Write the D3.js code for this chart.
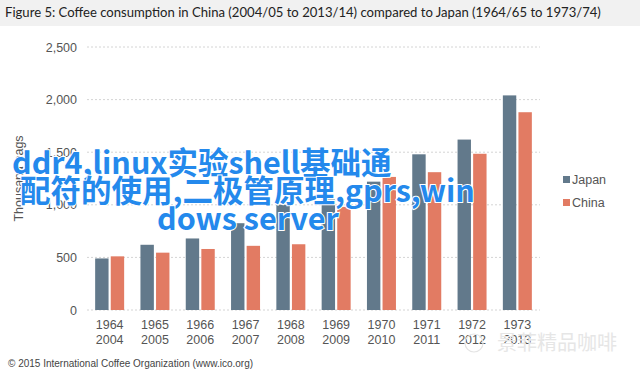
<!DOCTYPE html>
<html>
<head>
<meta charset="utf-8">
<script src="https://cdn.jsdelivr.net/npm/d3@7"></script>
<style>
  body { margin: 0; background: #fff; }
  svg { display: block; }
</style>
</head>
<body>
<div class="chart-container"></div>
<script>
// data
const yearsJapan = ["1964", "1965", "1966", "1967", "1968", "1969", "1970", "1971", "1972", "1973"];
const yearsChina = ["2004", "2005", "2006", "2007", "2008", "2009", "2010", "2011", "2012", "2013"];
const japan = [490, 620, 680, 825, 1000, 1050, 1220, 1480, 1620, 2040];
const china = [510, 545, 580, 610, 625, 980, 1265, 1310, 1485, 1880];
const seriesNames = ["Japan", "China"];
const yTicks = [0, 500, 1000, 1500, 2000, 2500];

const COLORS = { Japan: "#62798b", China: "#e27b63" };

const width = 640, height = 377;
const margin = { left: 87, top: 47, right: 100, bottom: 67 };
const plotW = width - margin.left - margin.right;
const plotH = height - margin.top - margin.bottom;

const svg = d3.select(".chart-container")
  .append("svg")
  .attr("width", width)
  .attr("height", height);

// title strip
svg.append("rect").attr("x", 0).attr("y", 0).attr("width", width).attr("height", 26).attr("fill", "#f1f1f1");
svg.append("text")
  .attr("x", 5).attr("y", 17)
  .attr("font-family", "Lato, 'Open Sans', sans-serif")
  .attr("font-size", 13.1)
  .attr("fill", "#222")
  .text("Figure 5: Coffee consumption in China (2004/05 to 2013/14) compared to Japan (1964/65 to 1973/74)");

const g = svg.append("g").attr("transform", "translate(" + margin.left + "," + margin.top + ")");

const x = d3.scaleBand().domain(yearsJapan).range([0, plotW]).paddingInner(0.36).paddingOuter(0.18);
const xs = d3.scaleBand().domain(seriesNames).range([0, x.bandwidth()]).paddingInner(0.14);
const y = d3.scaleLinear().domain([0, 2500]).range([plotH, 0]);

// gridlines
g.append("g")
  .selectAll("line")
  .data(yTicks)
  .enter()
  .append("line")
  .attr("x1", 0).attr("x2", plotW)
  .attr("y1", d => y(d)).attr("y2", d => y(d))
  .attr("stroke", "#d4d4d4")
  .attr("stroke-dasharray", "2,2");

// y axis labels
const yAxis = g.append("g")
  .call(d3.axisLeft(y).tickValues(yTicks).tickFormat(d3.format(",")).tickSize(0).tickPadding(10));
yAxis.select(".domain").remove();
yAxis.selectAll("text")
  .attr("font-family", "'Liberation Sans', Arial, sans-serif")
  .attr("font-size", 12.5)
  .attr("fill", "#555");

svg.append("text")
  .attr("transform", "translate(23," + (margin.top + plotH / 2) + ")rotate(-90)")
  .attr("text-anchor", "middle")
  .attr("font-family", "'Liberation Sans', Arial, sans-serif")
  .attr("font-size", 12.5)
  .attr("fill", "#555")
  .text("Thousand bags");

// bars
const rows = yearsJapan.map((yr, i) => ({ yr, Japan: japan[i], China: china[i] }));
const gYear = g.append("g").selectAll("g").data(rows).enter()
  .append("g")
  .attr("transform", d => "translate(" + x(d.yr) + ",0)");
gYear.selectAll("rect")
  .data(d => seriesNames.map(s => ({ s, v: d[s] })))
  .enter()
  .append("rect")
  .attr("x", d => xs(d.s))
  .attr("width", xs.bandwidth())
  .attr("y", d => y(d.v))
  .attr("height", d => plotH - y(d.v))
  .attr("fill", d => COLORS[d.s]);

// x labels, two lines
const xl = g.append("g").selectAll("text").data(yearsJapan).enter()
  .append("text")
  .attr("x", d => x(d) + x.bandwidth() / 2)
  .attr("y", plotH + 19)
  .attr("text-anchor", "middle")
  .attr("font-family", "'Liberation Sans', Arial, sans-serif")
  .attr("font-size", 12.5)
  .attr("fill", "#555");
xl.append("tspan").text(d => d);
xl.append("tspan")
  .attr("x", d => x(d) + x.bandwidth() / 2)
  .attr("dy", 15)
  .text((d, i) => yearsChina[i]);

// legend
const legend = svg.append("g").attr("transform", "translate(563,184)");
seriesNames.forEach((s, i) => {
  legend.append("rect").attr("x", 0).attr("y", i * 23 - 8).attr("width", 7).attr("height", 7).attr("fill", COLORS[s]);
  legend.append("text")
    .attr("x", 9).attr("y", i * 23)
    .attr("font-family", "'Liberation Sans', Arial, sans-serif")
    .attr("font-size", 12.5)
    .attr("fill", "#555")
    .text(s);
});

// footer
svg.append("text")
  .attr("x", 8).attr("y", 367)
  .attr("font-family", "'Liberation Sans', Arial, sans-serif")
  .attr("font-size", 10)
  .attr("fill", "#444")
  .text("\u00a9 2015 International Coffee Organization (www.ico.org)");

// faint wechat mark
svg.append("circle").attr("cx", 474).attr("cy", 343).attr("r", 9)
  .attr("fill", "none").attr("stroke", "#e4e4e4").attr("stroke-width", 1.2);
svg.append("text")
  .attr("x", 497).attr("y", 350)
  .attr("font-family", "'Noto Sans CJK SC', sans-serif")
  .attr("font-size", 20)
  .attr("fill", "#e6e6e6")
  .text("景菲精品咖啡");

// overlay caption
const overlay = [
  { t: "ddr4,linux实验shell基础通", x: 12, y: 174 },
  { t: "配符的使用,二极管原理,gprs,win", x: 20, y: 202 },
  { t: "dows server", x: 157, y: 230 }
];
svg.append("g").selectAll("text").data(overlay).enter()
  .append("text")
  .attr("x", d => d.x).attr("y", d => d.y)
  .attr("font-family", "'Noto Sans CJK SC', sans-serif")
  .attr("font-weight", "bold")
  .attr("font-size", 30.5)
  .attr("fill", "#2489ec")
  .attr("stroke", "#fff")
  .attr("stroke-width", 2)
  .attr("paint-order", "stroke")
  .text(d => d.t);
</script>
</body>
</html>
